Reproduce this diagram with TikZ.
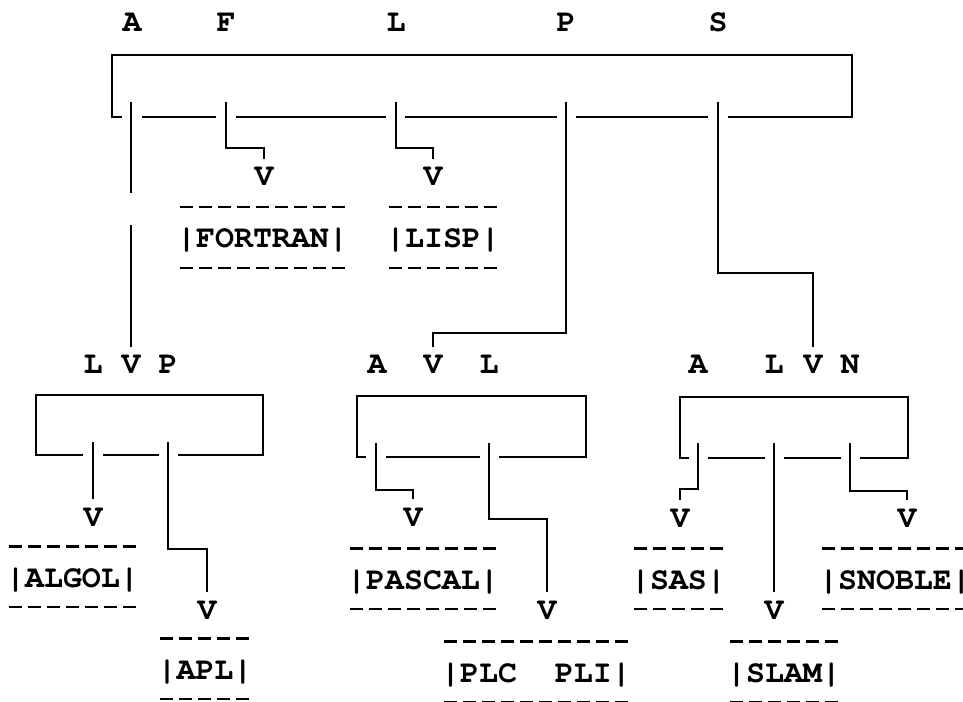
\documentclass[tikz,border=0pt]{standalone}
\usepackage[T1]{fontenc}
\usepackage{courier}

\begin{document}
\begin{tikzpicture}[x=0.02cm, y=-0.02cm,
		letter/.style={
			anchor=base,
			inner sep=0,
			font=\ttfamily\bfseries\fontsize{18}{18}\selectfont
		},
		arrowv/.style={letter, text height=0.54cm, text depth=0},
		word/.style={letter},
		link/.style={line width=1.2pt},
		dashrow/.style={line width=1.7pt, dash pattern=on 0.26cm off 0.12cm}]

	\useasboundingbox (0,0) rectangle (963,702);
	\clip (0,0) rectangle (963,702);

	% root
	\node [letter] (rootAl) at (132,32) {A};
	\node [letter] (rootFl) at (226,32) {F};
	\node [letter] (rootLl) at (396,32) {L};
	\node [letter] (rootPl) at (566,32) {P};
	\node [letter] (rootSl) at (718,32) {S};
	\draw [link] (122,117) -- (112,117) -- (112,55) -- (852,55) -- (852,117) -- (728,117);
	\draw [link] (142,117) -- (216,117) (236,117) -- (386,117) (405,117) -- (557,117) (576,117) -- (708,117);
	\coordinate (rootA) at (131,102);
	\coordinate (rootF) at (226,102);
	\coordinate (rootL) at (396,102);
	\coordinate (rootP) at (566,102);
	\coordinate (rootS) at (718,102);

	\node [arrowv] (fortranV) at (264,186) {V};
	\node [arrowv] (lispV) at (433,186) {V};
	\node [word] (fortran) at (262.5,248) {|FORTRAN|};
	\node [word] (lisp) at (443,248) {|LISP|};

	% A
	\node [letter] (lvpLl) at (93,374) {L};
	\node [arrowv] (lvpV) at (131,374) {V};
	\node [letter] (lvpPl) at (168,374) {P};
	\draw [link] (83,455) -- (36,455) -- (36,395) -- (263,395) -- (263,455) -- (178,455);
	\draw [link] (103,455) -- (159,455);
	\coordinate (lvpL) at (93,442);
	\coordinate (lvpP) at (168,442);

	\node [arrowv] (algolV) at (93,526) {V};
	\node [arrowv] (aplV) at (207,619) {V};
	\node [word] (algol) at (72.5,587) {|ALGOL|};
	\node [word] (apl) at (205,679) {|APL|};

	% P
	\node [letter] (avlAl) at (377,374) {A};
	\node [arrowv] (avlV) at (433,374) {V};
	\node [letter] (avlLl) at (489,374) {L};
	\draw [link] (366,457) -- (357,457) -- (357,396) -- (586,396) -- (586,457) -- (499,457);
	\draw [link] (386,457) -- (480,457);
	\coordinate (avlA) at (376,443);
	\coordinate (avlL) at (489,443);

	\node [arrowv] (pascalV) at (413,526) {V};
	\node [arrowv] (plcV) at (547,619) {V};
	\node [word] (pascal) at (423,589) {|PASCAL|};
	\node [word] (plc) at (536,682) {|PLC\ \ PLI|};

	% S
	\node [letter] (alvnAl) at (698,374) {A};
	\node [letter] (alvnLl) at (774,374) {L};
	\node [arrowv] (alvnV) at (813,374) {V};
	\node [letter] (alvnNl) at (850,374) {N};
	\draw [link] (689,458) -- (680,458) -- (680,397) -- (908,397) -- (908,458) -- (860,458);
	\draw [link] (708,458) -- (765,458) (784,458) -- (841,458);
	\coordinate (alvnA) at (698,443);
	\coordinate (alvnL) at (774,443);
	\coordinate (alvnN) at (850,443);

	\node [arrowv] (sasV) at (680,527) {V};
	\node [arrowv] (slamV) at (774,619) {V};
	\node [arrowv] (snobleV) at (907,527) {V};
	\node [word] (sas) at (678.5,589) {|SAS|};
	\node [word] (snoble) at (895,589) {|SNOBLE|};
	\node [word] (slam) at (784,682) {|SLAM|};

	% pointers
	\draw [link] (rootA) -- (131,193) (131,225) -- (lvpV.north);
	\draw [link] (rootF) -- ++(0,46) -| (fortranV.north);
	\draw [link] (rootL) -- ++(0,46) -| (lispV.north);
	\draw [link] (rootP) -- ++(0,231) -| (avlV.north);
	\draw [link] (rootS) -- ++(0,171) -| (alvnV.north);
	\draw [link] (lvpL) -- (algolV.north);
	\draw [link] (lvpP) -- ++(0,107) -| (aplV.north);
	\draw [link] (avlA) -- ++(0,47) -| (pascalV.north);
	\draw [link] (avlL) -- ++(0,76) -| (plcV.north);
	\draw [link] (alvnA) -- ++(0,46) -| (sasV.north);
	\draw [link] (alvnL) -- (slamV.north);
	\draw [link] (alvnN) -- ++(0,48) -| (snobleV.north);

	% leaf boxes
	\foreach \w in {fortran, lisp, algol, apl, pascal, plc, sas, snoble, slam}
		\draw [dashrow] ([xshift=0.06cm, yshift=0.82cm]\w.base west) -- ([xshift=-0.06cm, yshift=0.82cm]\w.base east)
			([xshift=0.06cm, yshift=-0.40cm]\w.base west) -- ([xshift=-0.06cm, yshift=-0.40cm]\w.base east);
\end{tikzpicture}
\end{document}
